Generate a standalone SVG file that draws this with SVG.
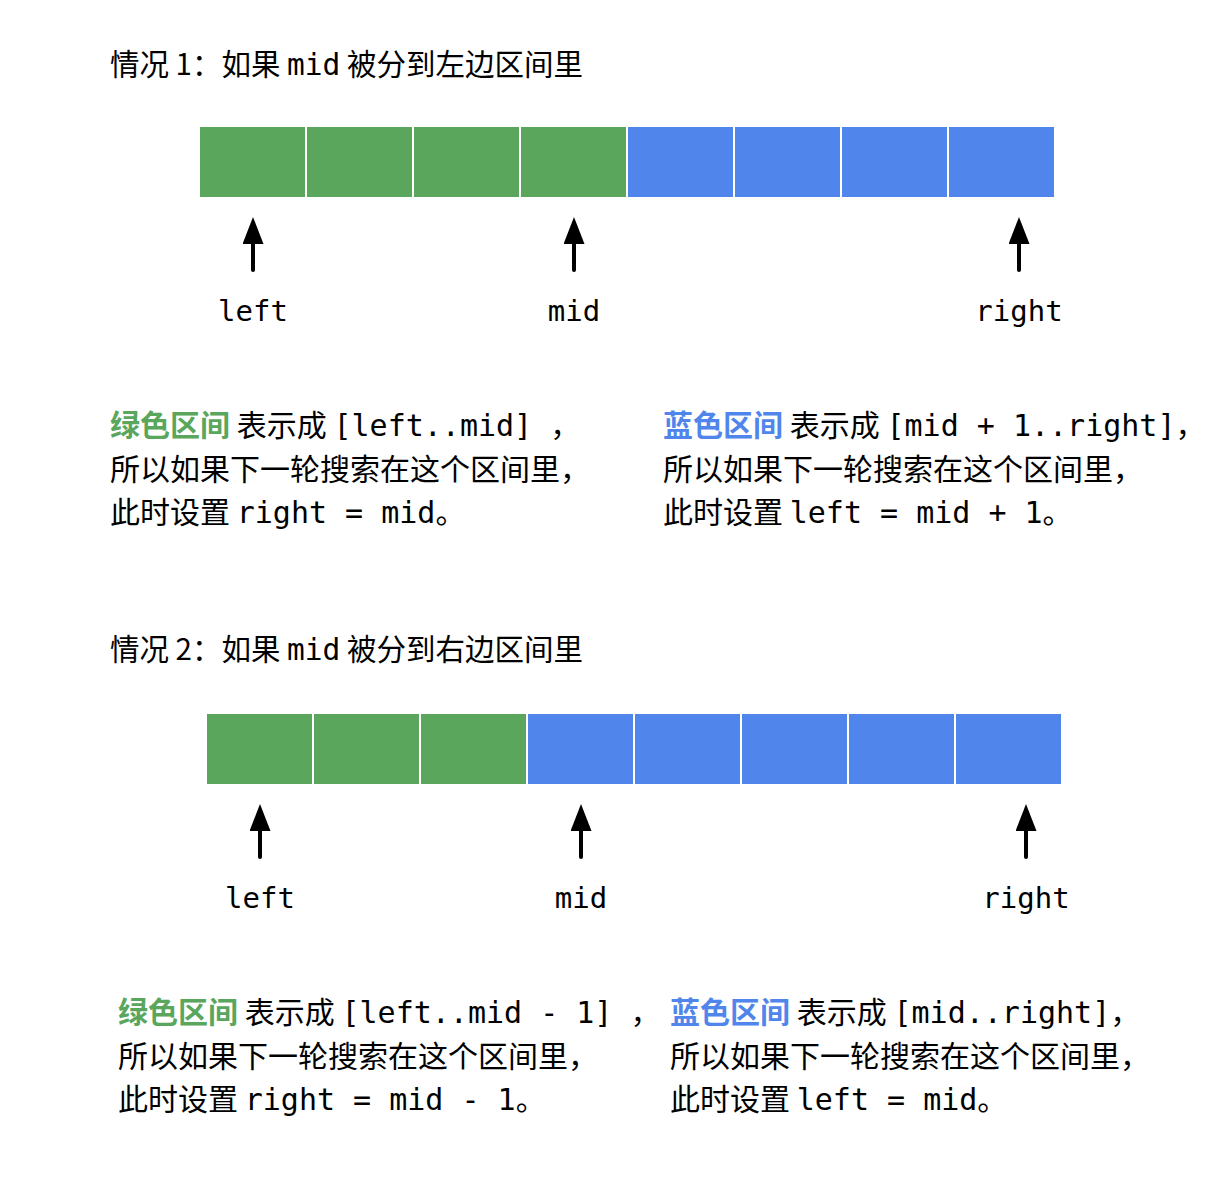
<svg xmlns="http://www.w3.org/2000/svg" width="1208" height="1182" viewBox="0 0 1208 1182">
<style>
  .bg { fill: #ffffff; }
  .cg { fill: #59A65C; stroke: #ffffff; stroke-width: 2; }
  .cb { fill: #5086EC; stroke: #ffffff; stroke-width: 2; }
  .shaft { stroke: #000; stroke-width: 4; stroke-linecap: round; fill: none; }
  text { font-family: "Noto Sans CJK SC", "DejaVu Sans", sans-serif; fill: #000; }
  .title { font-size: 29.5px; }
  .desc { font-size: 30px; }
  .mono { font-family: "DejaVu Sans Mono", "Liberation Mono", monospace; }
  .lbl { font-family: "DejaVu Sans Mono", "Liberation Mono", monospace; font-size: 29px; text-anchor: middle; }
  .gt { fill: #59A65C; font-weight: bold; }
  .bt { fill: #5086EC; font-weight: bold; }
</style>
<defs>
  <marker id="ah" viewBox="0 0 27 21" markerWidth="27" markerHeight="21" refX="1" refY="10.5" orient="auto" markerUnits="userSpaceOnUse">
    <path d="M0,0 L27,10.5 L0,21 Z" fill="#000"/>
  </marker>
</defs>
<rect class="bg" x="0" y="0" width="1208" height="1182"/>

<!-- Case 1 -->
<g id="title1"><text class="title" x="110" y="75">情况 1：如果 <tspan class="mono">mid</tspan> 被分到左边区间里</text></g>
<g id="array1">
  <rect class="cg" x="199" y="126" width="107" height="72"/>
  <rect class="cg" x="306" y="126" width="107" height="72"/>
  <rect class="cg" x="413" y="126" width="107" height="72"/>
  <rect class="cg" x="520" y="126" width="107" height="72"/>
  <rect class="cb" x="627" y="126" width="107" height="72"/>
  <rect class="cb" x="734" y="126" width="107" height="72"/>
  <rect class="cb" x="841" y="126" width="107" height="72"/>
  <rect class="cb" x="948" y="126" width="107" height="72"/>
</g>
<g id="labels1">
  <text class="lbl" x="253" y="321">left</text>
  <text class="lbl" x="574" y="321">mid</text>
  <text class="lbl" x="1019" y="321">right</text>
</g>
<g id="desc1L">
  <text class="desc" x="110" y="436"><tspan class="gt">绿色区间</tspan> 表示成 <tspan class="mono">[left..mid] </tspan>，</text>
  <text class="desc" x="110" y="480">所以如果下一轮搜索在这个区间里，</text>
  <text class="desc" x="110" y="523">此时设置 <tspan class="mono">right = mid</tspan>。</text>
</g>
<g id="desc1R">
  <text class="desc" x="663" y="436"><tspan class="bt">蓝色区间</tspan> 表示成 <tspan class="mono">[mid + 1..right]</tspan>，</text>
  <text class="desc" x="663" y="480">所以如果下一轮搜索在这个区间里，</text>
  <text class="desc" x="663" y="523">此时设置 <tspan class="mono">left = mid + 1</tspan>。</text>
</g>

<!-- Case 2 -->
<g id="title2"><text class="title" x="110" y="660">情况 2：如果 <tspan class="mono">mid</tspan> 被分到右边区间里</text></g>
<g id="array2">
  <rect class="cg" x="206" y="713" width="107" height="72"/>
  <rect class="cg" x="313" y="713" width="107" height="72"/>
  <rect class="cg" x="420" y="713" width="107" height="72"/>
  <rect class="cb" x="527" y="713" width="107" height="72"/>
  <rect class="cb" x="634" y="713" width="107" height="72"/>
  <rect class="cb" x="741" y="713" width="107" height="72"/>
  <rect class="cb" x="848" y="713" width="107" height="72"/>
  <rect class="cb" x="955" y="713" width="107" height="72"/>
</g>
<g id="labels2">
  <text class="lbl" x="260" y="908">left</text>
  <text class="lbl" x="581" y="908">mid</text>
  <text class="lbl" x="1026" y="908">right</text>
</g>
<g id="desc2L">
  <text class="desc" x="118" y="1023"><tspan class="gt">绿色区间</tspan> 表示成 <tspan class="mono">[left..mid - 1] </tspan>，</text>
  <text class="desc" x="118" y="1067">所以如果下一轮搜索在这个区间里，</text>
  <text class="desc" x="118" y="1110">此时设置 <tspan class="mono">right = mid - 1</tspan>。</text>
</g>
<g id="desc2R">
  <text class="desc" x="670" y="1023"><tspan class="bt">蓝色区间</tspan> 表示成 <tspan class="mono">[mid..right]</tspan>，</text>
  <text class="desc" x="670" y="1067">所以如果下一轮搜索在这个区间里，</text>
  <text class="desc" x="670" y="1110">此时设置 <tspan class="mono">left = mid</tspan>。</text>
</g>

<g id="connectors">
  <line class="shaft" x1="253" y1="270" x2="253" y2="243" marker-end="url(#ah)"/>
  <line class="shaft" x1="574" y1="270" x2="574" y2="243" marker-end="url(#ah)"/>
  <line class="shaft" x1="1019" y1="270" x2="1019" y2="243" marker-end="url(#ah)"/>
  <line class="shaft" x1="260" y1="857" x2="260" y2="830" marker-end="url(#ah)"/>
  <line class="shaft" x1="581" y1="857" x2="581" y2="830" marker-end="url(#ah)"/>
  <line class="shaft" x1="1026" y1="857" x2="1026" y2="830" marker-end="url(#ah)"/>
</g>
</svg>
